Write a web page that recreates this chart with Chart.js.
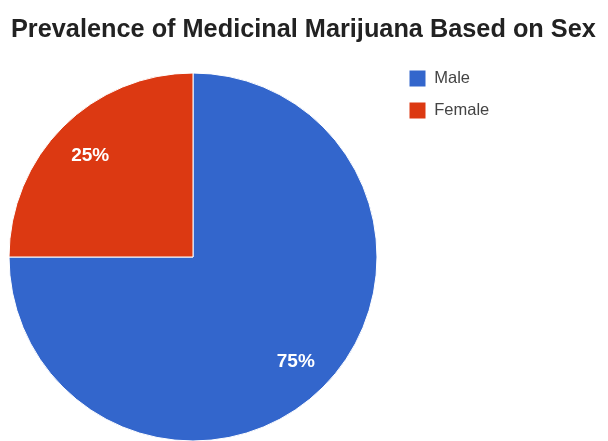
<!DOCTYPE html>
<html>
<head>
<meta charset="utf-8">
<script src="https://cdn.jsdelivr.net/npm/chart.js@4"></script>
<style>
  html, body { margin: 0; padding: 0; background: #fff; overflow: hidden; width: 608px; height: 441px; }
  #title {
    position: absolute; left: 11px; top: 13px; margin: 0;
    font: bold 25.3px "Liberation Sans", Arial, sans-serif; line-height: 30px;
    color: #222; white-space: nowrap; z-index: 2;
  }
  #wrap { position: absolute; left: -20px; top: 0; width: 628px; height: 460px; }
</style>
</head>
<body>
<div id="title">Prevalence of Medicinal Marijuana Based on Sex</div>
<div id="wrap"><canvas id="pieChart"></canvas></div>
<script>
const sexes = ["Male", "Female"];
const shares = [75, 25];
const sliceColors = ["#3366cc", "#dc3912"];

const FONT = '"Liberation Sans", Arial, sans-serif';
const legendFont = 16.5;
const legendPad = 15;
const legendBox = 17;

// legend width depends on the longest label, measure it so the pie stays put
function legendWidth() {
  const c = document.createElement("canvas").getContext("2d");
  c.font = legendFont + "px " + FONT;
  const w = Math.max(...sexes.map(s => c.measureText(s).width));
  return legendPad + legendBox + legendFont / 2 + w;
}

const pctLabels = {
  id: "pctLabels",
  afterDatasetsDraw(chart) {
    const ctx = chart.ctx;
    const meta = chart.getDatasetMeta(0);
    const total = shares.reduce((a, b) => a + b, 0);
    ctx.save();
    ctx.font = "bold 19px " + FONT;
    ctx.fillStyle = "#ffffff";
    ctx.textAlign = "center";
    ctx.textBaseline = "middle";
    meta.data.forEach((arc, i) => {
      const p = arc.getProps(["x", "y", "startAngle", "endAngle", "outerRadius"], true);
      const mid = (p.startAngle + p.endAngle) / 2;
      const r = p.outerRadius * 0.79;
      const txt = Math.round(shares[i] / total * 100) + "%";
      ctx.fillText(txt, p.x + Math.cos(mid) * r, p.y + Math.sin(mid) * r + 2);
    });
    ctx.restore();
  }
};

function buildPie() {
  const ctx = document.getElementById("pieChart").getContext("2d");
  const areaRight = 424;
  new Chart(ctx, {
    type: "pie",
    data: {
      labels: sexes,
      datasets: [{
        data: shares,
        backgroundColor: sliceColors,
        borderColor: "#ffffff",
        borderWidth: 1,
        radius: 184
      }]
    },
    options: {
      responsive: true,
      maintainAspectRatio: false,
      animation: false,
      layout: {
        padding: { left: 12, top: 55, bottom: 1, right: 628 - areaRight - legendWidth() }
      },
      plugins: {
        title: { display: false },
        tooltip: { enabled: false },
        legend: {
          position: "right",
          align: "start",
          labels: {
            boxWidth: legendBox,
            boxHeight: legendBox,
            padding: legendPad,
            color: "#444",
            font: { family: FONT, size: legendFont }
          }
        }
      }
    },
    plugins: [pctLabels]
  });
}

window.addEventListener("load", buildPie);
</script>
</body>
</html>
